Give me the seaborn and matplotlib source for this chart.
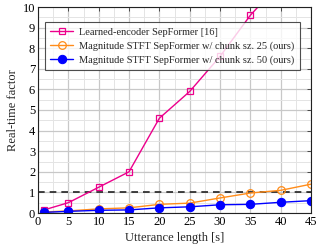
import matplotlib
matplotlib.use("Agg")
import matplotlib.pyplot as plt
import seaborn as sns
import pandas as pd
from matplotlib.ticker import MultipleLocator

sns.set_theme(style="white")
plt.rcParams['font.family'] = ['Liberation Serif', 'DejaVu Serif']
plt.rcParams['mathtext.fontset'] = 'stix'

lengths = [1, 5, 10, 15, 20, 25, 30, 35, 40, 45]
learned = [0.15, 0.5, 1.25, 2.0, 4.6, 5.9, 7.6, 9.6, 11.2, 13.0]
stft25 = [0.05, 0.1, 0.2, 0.25, 0.42, 0.48, 0.73, 0.97, 1.1, 1.4]
stft50 = [0.03, 0.08, 0.13, 0.15, 0.25, 0.3, 0.4, 0.42, 0.52, 0.6]
labels = ["Learned-encoder SepFormer [16]",
          "Magnitude STFT SepFormer w/ chunk sz. 25 (ours)",
          "Magnitude STFT SepFormer w/ chunk sz. 50 (ours)"]
colors = ["#EC008C", "#FF8C1A", "#0000FF"]

fig = plt.figure(figsize=(3.22, 2.5), dpi=100)
ax = fig.add_axes([0.118, 0.148, 0.848, 0.824])

# grid
ax.xaxis.set_major_locator(MultipleLocator(5))
ax.xaxis.set_minor_locator(MultipleLocator(2.5))
ax.yaxis.set_major_locator(MultipleLocator(1))
ax.yaxis.set_minor_locator(MultipleLocator(0.5))
ax.grid(True, which='major', color='#c8c8c8', lw=0.9)
ax.grid(True, which='minor', color='#e4e4e4', lw=0.7)
ax.set_axisbelow(True)

ax.axhline(1.0, color='#222222', ls=(0, (4, 3)), lw=1.2, zorder=1.5)

df = pd.DataFrame({"x": lengths * 3,
                   "y": learned + stft25 + stft50,
                   "s": [labels[0]] * 10 + [labels[1]] * 10 + [labels[2]] * 10})

sns.lineplot(data=df[df.s == labels[0]], x="x", y="y", color=colors[0], lw=1.0,
             marker='s', markersize=5, markerfacecolor='none',
             markeredgecolor=colors[0], markeredgewidth=0.9, label=labels[0], ax=ax)
sns.lineplot(data=df[df.s == labels[1]], x="x", y="y", color=colors[1], lw=1.0,
             marker='o', markersize=5.5, markerfacecolor='none',
             markeredgecolor=colors[1], markeredgewidth=0.9, label=labels[1], ax=ax)
sns.lineplot(data=df[df.s == labels[2]], x="x", y="y", color=colors[2], lw=1.0,
             marker='o', markersize=6, markerfacecolor=colors[2],
             markeredgecolor=colors[2], label=labels[2], ax=ax)

ax.set_xlim(0, 45)
ax.set_ylim(0, 10)
ax.set_xlabel("Utterance length [s]", fontsize=9, labelpad=3)
ax.set_ylabel("Real-time factor", fontsize=9, labelpad=3)
ax.tick_params(axis='both', which='major', direction='in', length=3, width=0.6,
               labelsize=9, pad=2, top=True, right=True, colors='#333333',
               labelcolor='black')
ax.tick_params(axis='both', which='minor', length=0)
for sp in ax.spines.values():
    sp.set_color('#222222')
    sp.set_linewidth(0.8)

leg = ax.legend(loc='upper left', bbox_to_anchor=(0.026, 0.927), borderaxespad=0,
                fontsize=7.5, frameon=True, fancybox=False, edgecolor='#222222',
                handlelength=2.2, handletextpad=0.6, labelspacing=0.42,
                borderpad=0.5)
leg.get_frame().set_linewidth(0.8)
leg.set_zorder(5)

fig.savefig("out.png", dpi=100)
